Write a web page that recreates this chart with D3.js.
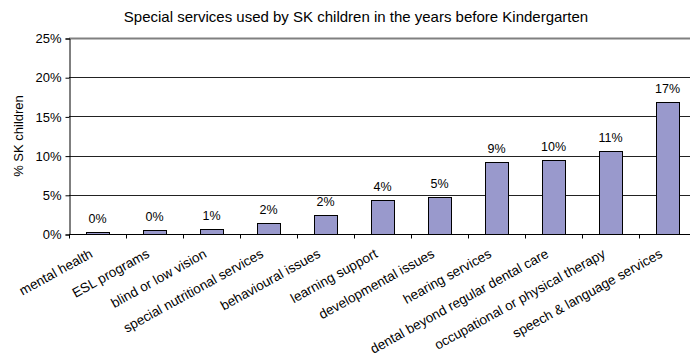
<!DOCTYPE html>
<html>
<head>
<meta charset="utf-8">
<script src="https://cdn.jsdelivr.net/npm/d3@7"></script>
<style>
  body { margin: 0; background: #fff; }
  svg { font-family: "Liberation Sans", Arial, sans-serif; display: block; }
</style>
</head>
<body>
<div id="chart"><svg></svg></div>
<script>
var width = 690,
    height = 360;

// categories and values (percent of SK children)
var categories = ["mental health", "ESL programs", "blind or low vision",
  "special nutritional services", "behavioural issues", "learning support",
  "developmental issues", "hearing services", "dental beyond regular dental care",
  "occupational or physical therapy", "speech & language services"];
var values = [0.2, 0.5, 0.65, 1.45, 2.4, 4.3, 4.75, 9.2, 9.5, 10.6, 16.9];
var valueLabels = ["0%", "0%", "1%", "2%", "2%", "4%", "5%", "9%", "10%", "11%", "17%"];
var yTicks = [0, 5, 10, 15, 20, 25];

var margin = {left: 69, top: 38, right: -6, bottom: 126};

var x = d3.scaleBand()
  .domain(categories)
  .range([margin.left, width - margin.right])
  .paddingInner(0.6)
  .paddingOuter(0.3);

var y = d3.scaleLinear()
  .domain([0, 25])
  .range([height - margin.bottom, margin.top]);

var svg = d3.select("#chart svg")
  .attr("width", width)
  .attr("height", height);

// title
svg.append("text")
  .attr("x", 356)
  .attr("y", 22)
  .attr("text-anchor", "middle")
  .attr("font-size", "15px")
  .attr("fill", "#000")
  .text("Special services used by SK children in the years before Kindergarten");

// y axis title
svg.append("text")
  .attr("transform", "translate(23," + ((y(0) + y(25)) / 2) + ") rotate(-90)")
  .attr("text-anchor", "middle")
  .attr("font-size", "13px")
  .text("% SK children");

// gridlines
svg.append("g")
    .attr("class", "grid")
  .selectAll("line")
    .data(yTicks.filter(function (d) { return d > 0; }))
  .enter().append("line")
    .attr("x1", margin.left)
    .attr("x2", width)
    .attr("y1", function (d) { return Math.round(y(d)) + 0.5; })
    .attr("y2", function (d) { return Math.round(y(d)) + 0.5; })
    .attr("stroke", function (d) { return d === 25 ? "#808080" : "#222"; })
    .attr("stroke-width", function (d) { return d === 25 ? 2 : 1; });

// y axis
var yAxis = svg.append("g")
  .attr("transform", "translate(" + (margin.left + 0.5) + ",0.5)")
  .call(d3.axisLeft(y).tickValues(yTicks).tickSize(4).tickPadding(4)
    .tickFormat(function (d) { return d + "%"; }));
yAxis.select(".domain").attr("stroke", "#000");
yAxis.selectAll(".tick line").attr("stroke", "#000");
yAxis.selectAll(".tick text")
  .attr("font-size", "13px")
  .attr("font-family", "Liberation Sans, Arial, sans-serif")
  .attr("fill", "#000");

// bars
svg.append("g")
    .attr("class", "bars")
  .selectAll("rect")
    .data(values)
  .enter().append("rect")
    .attr("x", function (d, i) { return Math.round(x(categories[i])) + 0.5; })
    .attr("y", function (d) { return Math.round(y(d)) + 0.5; })
    .attr("width", Math.round(x.bandwidth()))
    .attr("height", function (d) { return Math.round(y(0)) - Math.round(y(d)); })
    .attr("fill", "#9999cc")
    .attr("stroke", "#000")
    .attr("stroke-width", 1);

// value labels
svg.append("g")
    .attr("class", "value-labels")
  .selectAll("text")
    .data(values)
  .enter().append("text")
    .attr("x", function (d, i) { return x(categories[i]) + x.bandwidth() / 2; })
    .attr("y", function (d) { return y(d) - 9; })
    .attr("text-anchor", "middle")
    .attr("font-size", "12.5px")
    .attr("fill", "#000")
    .text(function (d, i) { return valueLabels[i]; });

// x axis: ticks between categories
var step = x.step();
var xAxis = svg.append("g")
  .attr("transform", "translate(0," + (Math.round(y(0)) + 0.5) + ")");
xAxis.append("line")
  .attr("x1", margin.left)
  .attr("x2", width)
  .attr("stroke", "#000");
xAxis.selectAll("line.tick")
    .data(d3.range(categories.length + 1))
  .enter().append("line")
    .attr("class", "tick")
    .attr("x1", function (i) { return Math.round(margin.left + i * step) + 0.5; })
    .attr("x2", function (i) { return Math.round(margin.left + i * step) + 0.5; })
    .attr("y1", 0)
    .attr("y2", 4)
    .attr("stroke", "#000");

xAxis.selectAll("text")
    .data(categories)
  .enter().append("text")
    .attr("text-anchor", "end")
    .attr("font-size", "13.5px")
    .attr("fill", "#000")
    .attr("transform", function (d) {
      return "translate(" + (x(d) + x.bandwidth() / 2 - 4) + ",22) rotate(-29)";
    })
    .text(function (d) { return d; });
</script>
</body>
</html>
